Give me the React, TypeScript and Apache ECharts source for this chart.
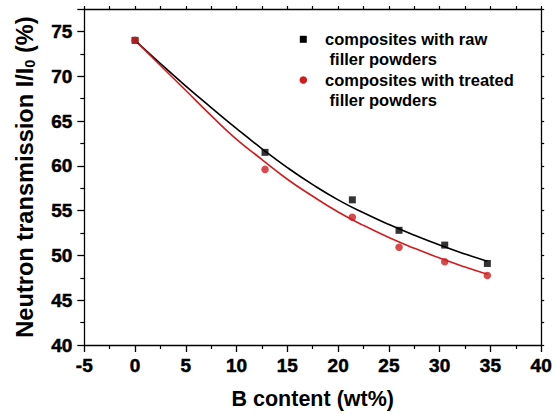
import React, { useEffect, useRef } from 'react';
import * as echarts from 'echarts';

const xTicks = { min: -5, max: 40, interval: 5 };
const yTicks = { min: 40, max: 77.5, interval: 5 };

const rawX = [0, 12.8, 21.4, 26.0, 30.5, 34.7];
const rawY = [74.0, 61.5, 56.2, 52.8, 51.15, 49.1];
const treatedX = [0, 12.8, 21.4, 26.0, 30.5, 34.7];
const treatedY = [74.0, 59.6, 54.25, 50.9, 49.3, 47.75];

const fitX = [0, 2.5, 5, 7.5, 10, 12.5, 15, 17.5, 20, 22.5, 25, 27.5, 30, 32.5, 34.7];
const rawFitY = [74, 71.4, 68.9, 66.5, 64.15, 61.9, 59.8, 57.9, 56.2, 54.75, 53.45, 52.25, 51.15, 50.15, 49.35];
const treatedFitY = [74, 71.2, 68.4, 65.6, 62.95, 60.7, 58.5, 56.6, 54.85, 53.35, 52.0, 50.8, 49.7, 48.7, 47.9];

const legendRaw = 'composites with raw\n filler powders';
const legendTreated = 'composites with treated\n filler powders';

const RED = '#d01c1f';
const FONT = 'Liberation Sans, Arial, Helvetica, sans-serif';

const zip = (xs: number[], ys: number[]) => xs.map((x, i) => [x, ys[i]]);

const tickText = {
  color: '#000',
  fontSize: 19,
  fontWeight: 'bold',
  fontFamily: FONT,
  textBorderColor: '#000',
  textBorderWidth: 0.5,
};

export default function App() {
  const ref = useRef<HTMLDivElement>(null);
  useEffect(() => {
    if (!ref.current) return;
    const chart = echarts.init(ref.current, undefined, { renderer: 'svg' });
    const axisLine = { show: true, onZero: false, lineStyle: { color: '#000', width: 1.3 } };
    chart.setOption({
      animation: false,
      backgroundColor: '#fff',
      textStyle: { fontFamily: FONT, color: '#000' },
      grid: { left: 84.3, right: 11, top: 9, bottom: 67.3, containLabel: false },
      xAxis: [
        {
          type: 'value',
          min: xTicks.min,
          max: xTicks.max,
          interval: xTicks.interval,
          position: 'bottom',
          axisLine,
          axisTick: { show: true, inside: false, length: 7, lineStyle: { color: '#000', width: 1.3 } },
          minorTick: { show: true, splitNumber: 2, length: 4, lineStyle: { color: '#000', width: 1.2 } },
          splitLine: { show: false },
          axisLabel: {
            show: true,
            ...tickText,
            margin: 11,
            formatter: (v: number) => `{b|${v}}`,
            rich: { b: { ...tickText } },
          },
          name: 'B content (wt%)',
          nameLocation: 'middle',
          nameGap: 43,
          nameTextStyle: { color: '#000', fontSize: 21.5, fontWeight: 'bold', fontFamily: FONT },
        },
        {
          type: 'value',
          min: xTicks.min,
          max: xTicks.max,
          interval: 2.5,
          position: 'top',
          axisLine,
          axisTick: { show: true, inside: false, length: 3, lineStyle: { color: '#000', width: 1.2 } },
          splitLine: { show: false },
          axisLabel: { show: false },
        },
      ],
      yAxis: [
        {
          type: 'value',
          min: yTicks.min,
          max: yTicks.max,
          interval: yTicks.interval,
          position: 'left',
          axisLine,
          axisTick: { show: true, inside: false, length: 7, lineStyle: { color: '#000', width: 1.3 } },
          minorTick: { show: true, splitNumber: 2, length: 4, lineStyle: { color: '#000', width: 1.2 } },
          splitLine: { show: false },
          axisLabel: {
            show: true,
            ...tickText,
            margin: 12,
            showMaxLabel: false,
            formatter: (v: number) => `{b|${v}}`,
            rich: { b: { ...tickText } },
          },
          name: 'Neutron transmission I/I{sub|0} (%)',
          nameLocation: 'middle',
          nameGap: 47,
          nameTextStyle: {
            color: '#000',
            fontSize: 23.6,
            fontWeight: 'bold',
            fontFamily: FONT,
            rich: {
              sub: {
                color: '#000',
                fontSize: 14.5,
                fontWeight: 'bold',
                fontFamily: FONT,
                verticalAlign: 'bottom',
                lineHeight: 21,
              },
            },
          },
        },
        {
          type: 'value',
          min: yTicks.min,
          max: yTicks.max,
          interval: 2.5,
          position: 'right',
          axisLine,
          axisTick: { show: true, inside: false, length: 3, lineStyle: { color: '#000', width: 1.2 } },
          splitLine: { show: false },
          axisLabel: { show: false },
        },
      ],
      series: [
        {
          name: 'raw fit',
          type: 'line',
          data: zip(fitX, rawFitY),
          smooth: true,
          showSymbol: false,
          lineStyle: { color: '#000', width: 1.6 },
          z: 2,
        },
        {
          name: 'treated fit',
          type: 'line',
          data: zip(fitX, treatedFitY),
          smooth: true,
          showSymbol: false,
          lineStyle: { color: RED, width: 1.6 },
          z: 2,
        },
        {
          name: legendRaw,
          type: 'scatter',
          data: zip(rawX, rawY),
          symbol: 'rect',
          symbolSize: 7,
          itemStyle: { color: '#000' },
          z: 3,
        },
        {
          name: legendTreated,
          type: 'scatter',
          data: zip(treatedX, treatedY),
          symbol: 'circle',
          symbolSize: 7.5,
          itemStyle: { color: RED },
          z: 4,
        },
      ],
      graphic: [
        { type: 'rect', shape: { x: 299.8, y: 35.8, width: 7, height: 7 }, style: { fill: '#000' } },
        {
          type: 'text',
          x: 325,
          y: 29.3,
          style: {
            text: legendRaw,
            fill: '#000',
            font: `bold 16.5px ${FONT}`,
            lineHeight: 20,
            verticalAlign: 'top',
          },
        },
        { type: 'circle', shape: { cx: 303.3, cy: 80, r: 3.8 }, style: { fill: RED } },
        {
          type: 'text',
          x: 325,
          y: 70,
          style: {
            text: legendTreated,
            fill: '#000',
            font: `bold 16.5px ${FONT}`,
            lineHeight: 20,
            verticalAlign: 'top',
          },
        },
      ],
    });
    return () => chart.dispose();
  }, []);
  return (
    <div
      ref={ref}
      style={{ position: 'fixed', left: 0, top: 0, width: 555, height: 415, background: '#fff' }}
    />
  );
}
